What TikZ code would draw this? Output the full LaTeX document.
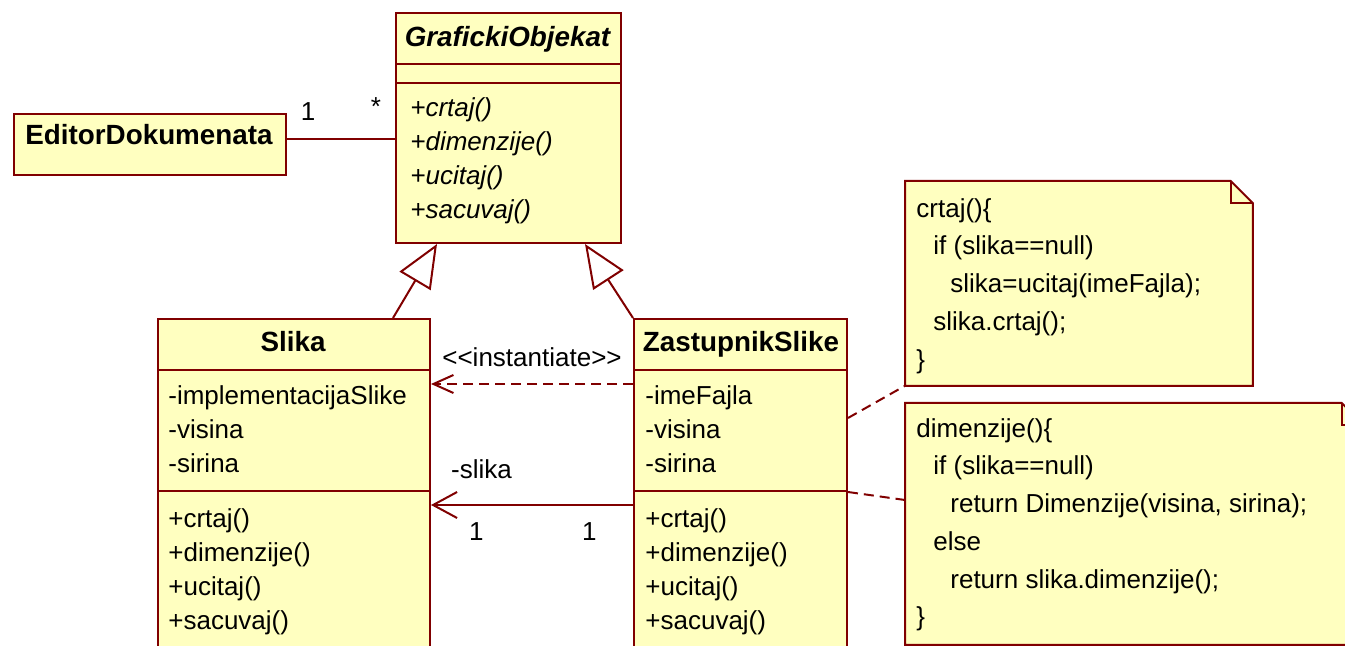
\documentclass[tikz,border=0pt]{standalone}
\usepackage{fontspec}
\setmainfont{Liberation Sans}
\usetikzlibrary{arrows.meta}

\definecolor{umlred}{RGB}{128,0,0}
\definecolor{umlfill}{RGB}{255,255,192}

\tikzset{
  umlline/.style={draw=umlred, line width=1pt},
  classbox/.style={umlline, fill=umlfill, rectangle, anchor=north west, inner sep=0pt},
  notebox/.style={rectangle, anchor=north west, inner sep=0pt},
  classname/.style={anchor=base, inner sep=0pt, font=\fontsize{13.9}{17}\selectfont\bfseries},
  abstractname/.style={classname, font=\fontsize{13.9}{17}\selectfont\bfseries\itshape},
  members/.style={anchor=north west, inner sep=0pt, align=left, font=\fontsize{13}{17}\selectfont},
  notetext/.style={anchor=north west, inner sep=0pt, align=left, font=\fontsize{13}{18.85}\selectfont},
  mult/.style={inner sep=0pt, font=\fontsize{13}{17}\selectfont},
  generalization/.style={umlline, -{Triangle[open, length=21.5pt, width=18pt, fill=white]}},
  navigable/.style={umlline, -{Straight Barb[length=12pt, width=13pt]}},
  dependency/.style={umlline, dash pattern=on 5pt off 3pt, -{Straight Barb[length=10pt, width=9pt]}},
  noteline/.style={umlline, dash pattern=on 5pt off 3pt},
}

\begin{document}
\begin{tikzpicture}[x=0.5pt, y=-0.5pt]

% canvas
\useasboundingbox (0,0) rectangle (1345,646);
\clip (0,0) rectangle (1345,646);

% abstract class
\node[classbox, minimum width=112.5pt, minimum height=115pt] (go) at (395,12) {};
\node[abstractname] (go_name) at (507.5,47) {GrafickiObjekat};
\draw[umlline] (go.west |- 0,64) -- (go.east |- 0,64);
\draw[umlline] (go.west |- 0,83) -- (go.east |- 0,83);
\node[members, font=\fontsize{13}{17}\selectfont\itshape] (go_ops) at (410,97) {+crtaj()\\+dimenzije()\\+ucitaj()\\+sacuvaj()};

% client
\node[classbox, minimum width=136pt, minimum height=30.5pt] (ed) at (13,113) {};
\node[classname] (ed_name) at (149,145) {EditorDokumenata};
\draw[umlline] (ed.east |- 0,139) -- (go.west |- 0,139);
\node[mult] (ed_one) at (308,112) {1};
\node[mult] (go_many) at (376,107) {*};

% real subject
\node[classbox, minimum width=136pt, minimum height=191pt] (slika) at (157,318) {};
\node[classname] (slika_name) at (293,352) {Slika};
\draw[umlline] (slika.west |- 0,370) -- (slika.east |- 0,370);
\draw[umlline] (slika.west |- 0,491) -- (slika.east |- 0,491);
\node[members] (slika_attr) at (168,385) {-implementacijaSlike\\-visina\\-sirina};
\node[members] (slika_ops) at (168,508) {+crtaj()\\+dimenzije()\\+ucitaj()\\+sacuvaj()};

% proxy
\node[classbox, minimum width=106.5pt, minimum height=191pt] (zs) at (633,318) {};
\node[classname] (zs_name) at (741,352) {ZastupnikSlike};
\draw[umlline] (zs.west |- 0,370) -- (zs.east |- 0,370);
\draw[umlline] (zs.west |- 0,491) -- (zs.east |- 0,491);
\node[members] (zs_attr) at (645,385) {-imeFajla\\-visina\\-sirina};
\node[members] (zs_ops) at (645,508) {+crtaj()\\+dimenzije()\\+ucitaj()\\+sacuvaj()};

% notes
\node[notebox, minimum width=173.5pt, minimum height=102pt] (note_crtaj) at (905,181) {};
\filldraw[umlline, fill=umlfill] (note_crtaj.north west) -- ([xshift=-11pt]note_crtaj.north east)
  -- ([yshift=-11pt]note_crtaj.north east) -- (note_crtaj.south east) -- (note_crtaj.south west) -- cycle;
\draw[umlline] ([xshift=-11pt]note_crtaj.north east) |- ([yshift=-11pt]note_crtaj.north east);
\node[notetext] (note_crtaj_txt) at (916,198) {crtaj()\{\\
  \hspace*{8.5pt}if (slika==null)\\
  \hspace*{17pt}slika=ucitaj(imeFajla);\\
  \hspace*{8.5pt}slika.crtaj();\\
  \}};

\node[notebox, minimum width=229pt, minimum height=120.5pt] (note_dim) at (905,403) {};
\filldraw[umlline, fill=umlfill] (note_dim.north west) -- ([xshift=-11pt]note_dim.north east)
  -- ([yshift=-11pt]note_dim.north east) -- (note_dim.south east) -- (note_dim.south west) -- cycle;
\draw[umlline] ([xshift=-11pt]note_dim.north east) |- ([yshift=-11pt]note_dim.north east);
\node[notetext] (note_dim_txt) at (916,418) {dimenzije()\{\\
  \hspace*{8.5pt}if (slika==null)\\
  \hspace*{17pt}return Dimenzije(visina, sirina);\\
  \hspace*{8.5pt}else\\
  \hspace*{17pt}return slika.dimenzije();\\
  \}};

% inheritance
\draw[generalization] (slika.north -| 393,0) -- (go.south -| 437,0);
\draw[generalization] (zs.north west) -- (go.south -| 585,0);

% proxy -> subject
\draw[dependency] (zs.west |- 0,384) -- (slika.east |- 0,384)
  node[mult, midway, above=8pt] (dep_label) {<{}<instantiate>{}>};
\draw[navigable] (zs.west |- 0,505) -- (slika.east |- 0,505)
  node[mult, pos=0.75, above=12.5pt] (assoc_role) {-slika}
  node[mult, pos=0.775, below=8.25pt] (assoc_one_a) {1}
  node[mult, pos=0.216, below=8.25pt] (assoc_one_b) {1};

% note anchors
\draw[noteline] (zs.east |- 0,418) -- (note_crtaj.south west);
\draw[noteline] (zs.east |- 0,492) -- (note_dim.west |- 0,500);

\end{tikzpicture}
\end{document}
